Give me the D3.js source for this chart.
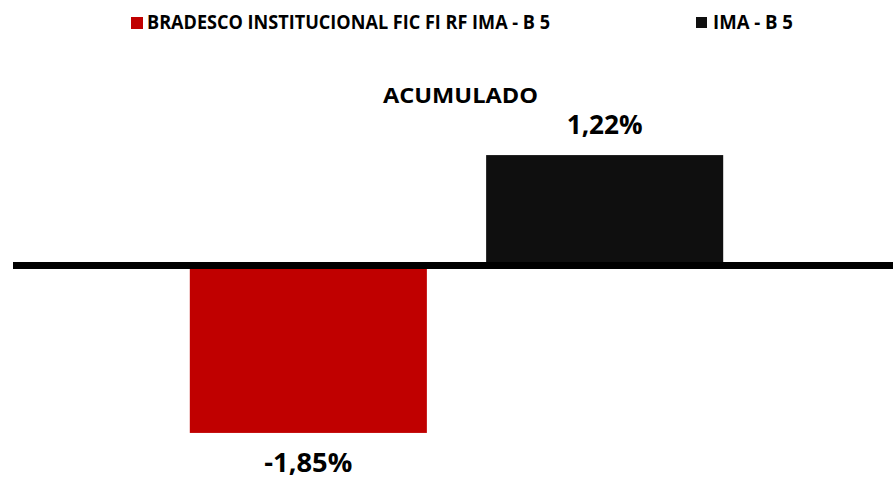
<!DOCTYPE html>
<html>
<head>
<meta charset="utf-8">
<script src="https://cdn.jsdelivr.net/npm/d3@7"></script>
<style>
  body { margin: 0; background: #fff; }
  text { font-family: 'Open Sans', 'DejaVu Sans', sans-serif; font-weight: bold; fill: #000; }
</style>
</head>
<body>
<div id="chart"></div>
<script>
const series = ['BRADESCO INSTITUCIONAL FIC FI RF IMA - B 5', 'IMA - B 5']
const values = [-1.85, 1.22]
const valueLabels = ['-1,85%', '1,22%']
const colors = ['#c00000', '#0f0f0f']
const title = 'ACUMULADO'

const width = 893, height = 481

const svg = d3.select('#chart').append('svg')
  .attr('width', width).attr('height', height)

// zero sits at ~265.5px, about 90.5px per percentage point
const y = d3.scaleLinear()
  .domain([-2, 1.5])
  .range([265.5 + 2 * 90.5, 265.5 - 1.5 * 90.5])

const x = d3.scaleBand()
  .domain(series)
  .range([12, 901])
  .paddingInner(0.2)
  .paddingOuter(0.6)

const data = series.map((s, i) => ({ name: s, value: values[i], label: valueLabels[i], color: colors[i] }))

svg.append('g').attr('class', 'bars')
  .selectAll('rect')
  .data(data)
  .enter().append('rect')
    .attr('x', d => x(d.name))
    .attr('width', x.bandwidth())
    .attr('y', d => y(Math.max(0, d.value)))
    .attr('height', d => Math.abs(y(d.value) - y(0)))
    .attr('fill', d => d.color)

// thick zero line
svg.append('line')
  .attr('x1', 13).attr('x2', width)
  .attr('y1', y(0)).attr('y2', y(0))
  .attr('stroke', '#000')
  .attr('stroke-width', 7)

// value labels
const labelWidths = [88, 76]
svg.append('g').selectAll('text')
  .data(data)
  .enter().append('text')
    .attr('x', d => x(d.name) + x.bandwidth() / 2)
    .attr('y', d => d.value < 0 ? y(d.value) + 39 : y(d.value) - 21)
    .attr('text-anchor', 'middle')
    .attr('font-size', 27)
    .attr('textLength', (d, i) => labelWidths[i])
    .attr('lengthAdjust', 'spacingAndGlyphs')
    .text(d => d.label)

svg.append('text')
  .attr('x', 460.5).attr('y', 103)
  .attr('text-anchor', 'middle')
  .attr('font-size', 22)
  .attr('textLength', 155)
  .attr('lengthAdjust', 'spacingAndGlyphs')
  .text(title)

// legend
const legendItems = [
  { sq: 131, tx: 147, w: 403, size: 12 },
  { sq: 696, tx: 713, w: 80, size: 11 }
]
const legend = svg.append('g').attr('class', 'legend')
  .selectAll('g')
  .data(data)
  .enter().append('g')

legend.append('rect')
  .attr('x', (d, i) => legendItems[i].sq)
  .attr('y', 17)
  .attr('width', (d, i) => legendItems[i].size)
  .attr('height', (d, i) => legendItems[i].size)
  .attr('fill', d => d.color)

legend.append('text')
  .attr('x', (d, i) => legendItems[i].tx)
  .attr('y', 29)
  .attr('font-size', 19)
  .attr('textLength', (d, i) => legendItems[i].w)
  .attr('lengthAdjust', 'spacingAndGlyphs')
  .text(d => d.name)
</script>
</body>
</html>
